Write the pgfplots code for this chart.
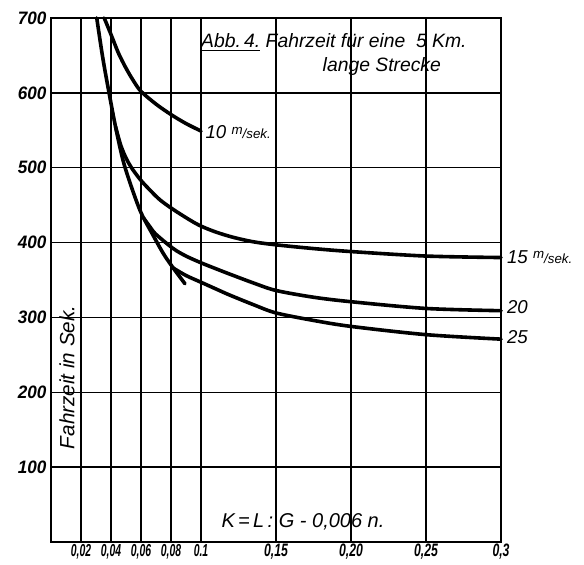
\documentclass[border=0pt]{standalone}
\usepackage{fontspec}
\setmainfont{Liberation Sans}
\newfontfamily\condA{Liberation Sans}[FakeStretch=0.95]
\newfontfamily\condB{Liberation Sans}[FakeStretch=0.68]
\newfontfamily\condC{Liberation Sans}[FakeStretch=0.6]
\usepackage{pgfplots}
\pgfplotsset{compat=1.18}
\newcommand\xs[1]{{\condC\fontsize{13}{14}\selectfont\bfseries\itshape #1}}
\newcommand\xl[1]{{\condB\fontsize{13.5}{14}\selectfont\bfseries\itshape #1}}
\newcommand\msek{{\fontsize{10}{11}\selectfont\raisebox{0.7ex}{m}/sek.}}
\begin{document}
\begin{tikzpicture}
\path[use as bounding box] (-38.25pt,-16.5pt) rectangle (399.75pt,406.5pt);
\begin{axis}[
  at={(0,0)}, anchor=south west,
  scale only axis, width=337.5pt, height=393pt,
  xmin=0, xmax=0.3, ymin=0, ymax=700,
  clip=false,
  axis line style={line width=1.3pt},
  grid=major,
  major grid style={black, line width=1.1pt},
  major tick length=0pt,
  xtick={0.02,0.04,0.06,0.08,0.1,0.15,0.2,0.25,0.3},
  xticklabels={\xs{0,02},\xs{0,04},\xs{0,06},\xs{0,08},\xs{0.1},\xl{0,15},\xl{0,20},\xl{0,25},\xl{0,3}},
  xticklabel style={inner sep=1.5pt},
  ytick={100,200,300,400,500,600,700},
  yticklabels={100,200,300,400,500,600,700},
  yticklabel style={font=\condA\fontsize{13.5}{15}\selectfont\bfseries\itshape},
  every axis plot/.append style={black, line width=2.7pt, line cap=round},
]
% envelope
\addplot[smooth] coordinates {(0.0305,700)(0.0345,647)(0.0387,600)(0.043,555)(0.048,510)(0.0535,475)(0.06,440)(0.068,410)(0.075,385)(0.0815,366)(0.0893,345)};
% 10 m/sek
\addplot[smooth] coordinates {(0.0355,700)(0.04,678)(0.045,653)(0.05,633)(0.055,616)(0.06,602)(0.07,585)(0.08,571)(0.09,559)(0.1,549)};
% 15 m/sek
\addplot[smooth] coordinates {(0.043,555)(0.0465,530)(0.05,513)(0.054,499)(0.06,483)(0.067,468)(0.0727,457)(0.0809,445)(0.0927,430)(0.1,422)(0.11,414)(0.1215,407)(0.135,401)(0.15,397)(0.175,392)(0.2,388)(0.25,382)(0.3,380)};
% 20
\addplot[smooth] coordinates {(0.062,432)(0.066,421)(0.07,411)(0.0815,392)(0.09,382)(0.1,373)(0.11,365)(0.119,358)(0.135,346)(0.15,336)(0.175,327)(0.2,321)(0.25,312)(0.3,309)};
% 25
\addplot[smooth] coordinates {(0.0815,366)(0.09,356)(0.1,347)(0.11,338)(0.119,330)(0.135,317)(0.15,306)(0.175,296)(0.2,288)(0.25,277)(0.3,271)};

\node[anchor=base west, font=\fontsize{14.5}{16}\selectfont\itshape] at (axis cs:0.097,660) {\underline{Abb.\,4.} Fahrzeit für eine \ 5 Km.};
\node[anchor=base west, font=\fontsize{14.5}{16}\selectfont\itshape] at (axis cs:0.178,628) {lange Strecke};
\node[rotate=90, font=\fontsize{15.5}{17}\selectfont\itshape] at (axis cs:0.0107,220) {Fahrzeit in Sek.};
\node[anchor=base, font=\fontsize{15}{17}\selectfont\itshape] at (axis cs:0.168,19) {K\,=\,L\,:\ G - 0,006 n.};
\node[anchor=west, font=\fontsize{14}{16}\selectfont\itshape, inner sep=1pt] at (axis cs:0.102,547) {10 \msek};
\node[anchor=west, font=\fontsize{14}{16}\selectfont\itshape, inner sep=1pt] at (axis cs:0.303,381) {15 \msek};
\node[anchor=west, font=\fontsize{14}{16}\selectfont\itshape, inner sep=1pt] at (axis cs:0.303,314) {20};
\node[anchor=west, font=\fontsize{14}{16}\selectfont\itshape, inner sep=1pt] at (axis cs:0.303,274) {25};
\end{axis}
\end{tikzpicture}
\end{document}
